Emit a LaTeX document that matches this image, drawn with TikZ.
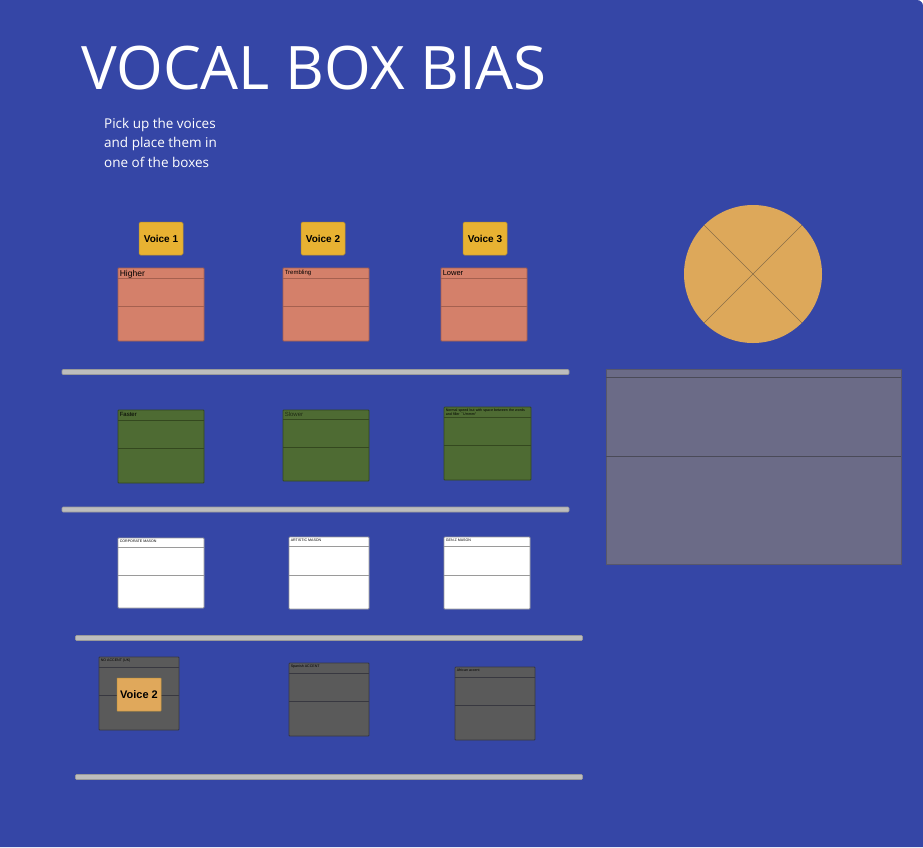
\documentclass[tikz,border=0pt]{standalone}
\usepackage{fontspec}
\setmainfont{Open Sans}
\newfontfamily\cardfont{Liberation Sans}
\usepackage{xcolor}
\usepackage{tikz}
\usetikzlibrary{shapes,positioning,calc}
\definecolor{boardblue}{HTML}{3546A6}
\definecolor{salmon}{HTML}{D4806A}
\definecolor{salmondark}{HTML}{A5604F}
\definecolor{voicegold}{HTML}{E8B232}
\definecolor{voicegolddark}{HTML}{B8902C}
\definecolor{placedgold}{HTML}{E0A85B}
\definecolor{moss}{HTML}{4E6B33}
\definecolor{mossdark}{HTML}{34481F}
\definecolor{cardgrey}{HTML}{9A9A9A}
\definecolor{slate}{HTML}{5A5A5A}
\definecolor{slatedark}{HTML}{383840}
\definecolor{panelgrey}{HTML}{6B6B87}
\definecolor{paneldark}{HTML}{4A4A58}
\definecolor{piegold}{HTML}{DDA85A}
\definecolor{pieline}{HTML}{8A6E48}
\definecolor{railgrey}{HTML}{BDBDBD}

\begin{document}
\begin{tikzpicture}[x=1pt, y=-1pt,
    card/.style={draw=#1, line width=0.8pt, inner sep=0pt, minimum width=86pt, minimum height=73pt, rounded corners=0.8pt,
        path picture={
            \draw[#1, line width=0.7pt] ($(path picture bounding box.north west)!0.135!(path picture bounding box.south west)$) -- ($(path picture bounding box.north east)!0.135!(path picture bounding box.south east)$);
            \draw[#1, line width=0.7pt] ($(path picture bounding box.north west)!0.53!(path picture bounding box.south west)$) -- ($(path picture bounding box.north east)!0.53!(path picture bounding box.south east)$);
        }},
    tag/.style={anchor=north west, inner sep=2pt, yshift=-0.5pt, font=\cardfont\fontsize{#1}{#1}\selectfont, text=black},
    voice/.style={draw=voicegolddark, fill=voicegold, line width=0.5pt, rounded corners=1.5pt, minimum width=44pt, minimum height=33pt, inner sep=0pt, font=\cardfont\bfseries\fontsize{10}{11}\selectfont},
    rail/.style={draw=cardgrey, fill=railgrey, line width=0.6pt, rounded corners=1pt, minimum width=507pt, minimum height=5pt, inner sep=0pt}
]
    \useasboundingbox (0,0) rectangle (923,847);
    \fill[white] (0,0) rectangle (923,847);
    \fill[boardblue] (0,847) -- (0,0) [rounded corners=6pt] -- (923,0) [sharp corners] -- (923,847) -- cycle;

    % Title
    \node[anchor=west, inner sep=0pt, text=white, font=\fontsize{60}{64}\selectfont] (title) at (81,68) {VOCAL BOX BIAS};
    \node[anchor=north west, inner sep=0pt, align=left, text=white, font=\fontsize{13.5}{19.5}\selectfont] (hint) at (104,118) {Pick up the voices\\and place them in\\one of the boxes};

    % Voices
    \node[voice] (voice1) at (161,238.5) {Voice 1};
    \node[voice] (voice2) at (323,238.5) {Voice 2};
    \node[voice] (voice3) at (485,238.5) {Voice 3};

    % Pitch row
    \node[card=salmondark, fill=salmon, label={[tag=8.5]north west:Higher}] (higher) at (161,304.5) {};
    \node[card=salmondark, fill=salmon, label={[tag=6]north west:Trembling}] (trembling) at (326,304.5) {};
    \node[card=salmondark, fill=salmon, label={[tag=7.5]north west:Lower}] (lower) at (484,304.5) {};
    \node[rail] (rail1) at (315.5,372) {};

    % Speed row
    \node[card=mossdark, fill=moss, label={[tag=6]north west:Faster}] (faster) at (161,446.5) {};
    \node[card=mossdark, fill=moss, minimum height=71pt, label={[tag=6, text=black!60!moss]north west:Slower}] (slower) at (326,445.5) {};
    \node[card=mossdark, fill=moss, minimum width=87pt, label={[tag=3.6, align=left, text width=80pt]north west:Normal speed but with space between the words and filler ``Ummm''}] (pauses) at (487.5,443.5) {};
    \node[rail] (rail2) at (315.5,509.5) {};

    % Persona row
    \node[card=cardgrey, fill=white, minimum height=70pt, label={[tag=3.6]north west:CORPORATE MASON}] (corporate) at (161,573) {};
    \node[card=cardgrey, fill=white, minimum width=80pt, minimum height=72pt, label={[tag=3.6]north west:ARTISTIC MASON}] (artistic) at (329,573) {};
    \node[card=cardgrey, fill=white, minimum height=72pt, label={[tag=3.6]north west:GEN Z MASON}] (genz) at (487,573) {};
    \node[rail] (rail3) at (329,638) {};

    % Accent row
    \node[card=slatedark, fill=slate, minimum width=80pt, label={[tag=3.6]north west:NO ACCENT (UK)}] (noaccent) at (139,693.5) {};
    \node[card=slatedark, fill=slate, minimum width=80pt, label={[tag=3.6]north west:Spanish ACCENT}] (spanish) at (329,699.5) {};
    \node[card=slatedark, fill=slate, minimum width=80pt, label={[tag=3.6]north west:African accent}] (african) at (495,703.5) {};
    \node[rail] (rail4) at (329,777) {};

    \node[voice, fill=placedgold, draw=voicegolddark!70!placedgold, rounded corners=0.5pt, font=\cardfont\bfseries\fontsize{11}{12}\selectfont] (placed) at (139,694.5) {Voice 2};

    % Pie and panel
    \node[circle, fill=piegold, minimum size=138pt, inner sep=0pt] (pie) at (753,274) {};
    \draw[pieline, line width=0.5pt] (pie.135) -- (pie.-45);
    \draw[pieline, line width=0.5pt] (pie.45) -- (pie.-135);

    \node[draw=paneldark!60!panelgrey, fill=panelgrey, minimum width=295pt, minimum height=195pt, inner sep=0pt] (panel) at (753.5,466.5) {};
    \draw[paneldark, line width=0.7pt] ($(panel.north west)!0.046!(panel.south west)$) -- ($(panel.north east)!0.046!(panel.south east)$);
    \draw[paneldark, line width=0.6pt] ($(panel.north west)!0.446!(panel.south west)$) -- ($(panel.north east)!0.446!(panel.south east)$);
\end{tikzpicture}
\end{document}
